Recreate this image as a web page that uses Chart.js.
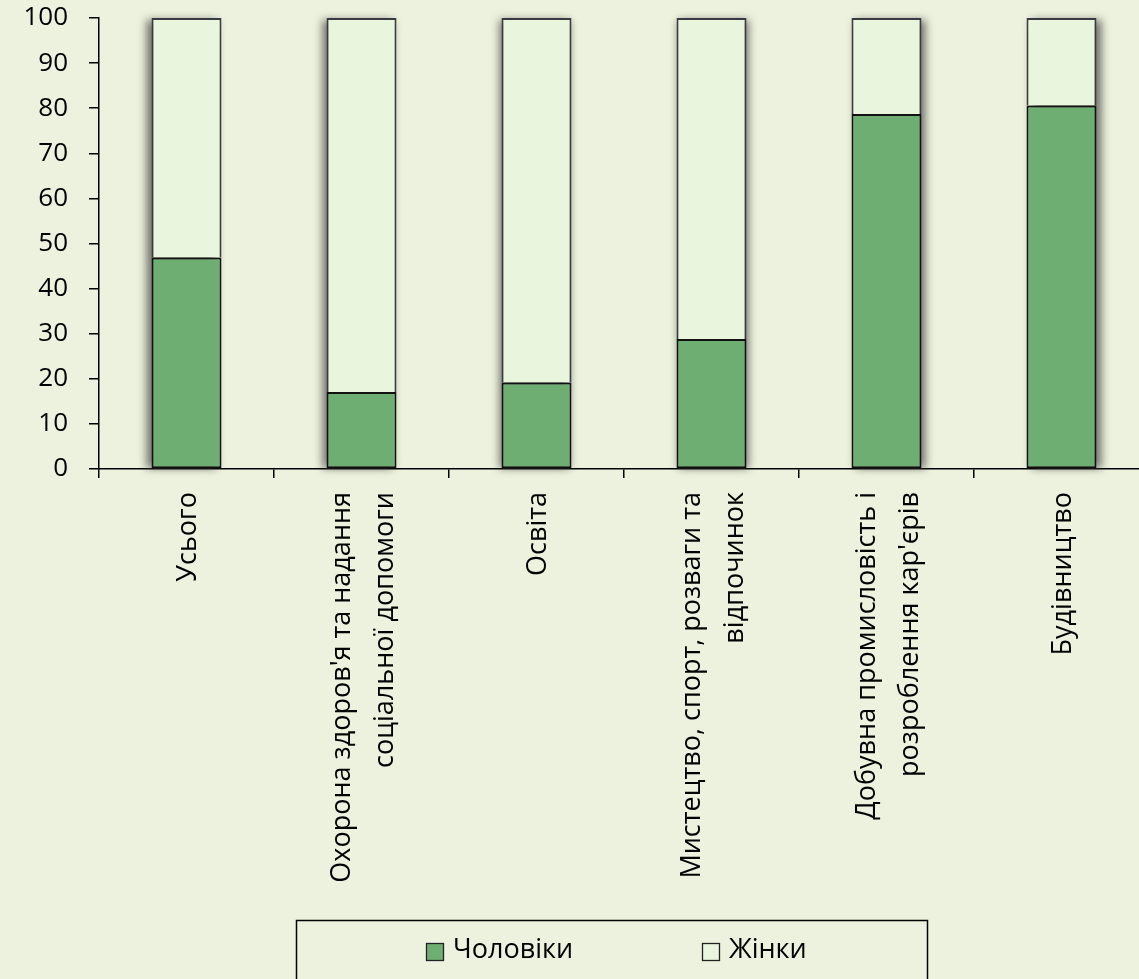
<!DOCTYPE html>
<html>
<head>
<meta charset="utf-8">
<script src="https://cdn.jsdelivr.net/npm/chart.js@4.4.1/dist/chart.umd.min.js"></script>
<style>
  html, body { margin: 0; padding: 0; overflow: hidden; background: #edf2de; }
  #wrap { width: 1160px; height: 979px; position: relative; }
</style>
</head>
<body>
<div id="wrap"><canvas id="c"></canvas></div>
<script>
const categories = [
  ['Усього'],
  ["Охорона здоров'я та надання", 'соціальної допомоги'],
  ['Освіта'],
  ['Мистецтво, спорт, розваги та', 'відпочинок'],
  ['Добувна промисловість і', "розроблення кар'єрів"],
  ['Будівництво']
];
const seriesNames = ['Чоловіки', 'Жінки'];
const menValues = [46.9, 17.1, 19.2, 28.8, 78.7, 80.6];
const womenValues = [53.1, 82.9, 80.8, 71.2, 21.3, 19.4];
const yTicks = [0, 10, 20, 30, 40, 50, 60, 70, 80, 90, 100];

const FONT = '"Open Sans", "Liberation Sans", sans-serif';
const shadowOffsets = [-5, -4, -2, 2, 4, 5];

const bgPlugin = {
  id: 'bg',
  beforeDraw(chart) {
    const ctx = chart.ctx;
    ctx.save();
    ctx.fillStyle = '#edf2de';
    ctx.fillRect(0, 0, chart.width, chart.height);
    ctx.restore();
  }
};

const shadowPlugin = {
  id: 'barShadow',
  beforeDatasetsDraw(chart) {
    const ctx = chart.ctx;
    const m0 = chart.getDatasetMeta(0).data;
    const m1 = chart.getDatasetMeta(1).data;
    ctx.save();
    ctx.filter = 'blur(4px)';
    ctx.fillStyle = 'rgba(60,60,60,0.7)';
    m0.forEach((el, i) => {
      const top = Math.min(m1[i].y, el.y);
      const bottom = el.base;
      ctx.fillRect(el.x - el.width / 2 + shadowOffsets[i], top + 2, el.width, bottom - top - 2);
    });
    ctx.restore();
  }
};

const xLabelPlugin = {
  id: 'xLabels',
  afterDraw(chart) {
    const ctx = chart.ctx;
    const xs = chart.scales.x;
    const top = chart.chartArea.bottom + 23;
    ctx.save();
    ctx.fillStyle = '#000';
    ctx.font = '27px ' + FONT;
    ctx.textAlign = 'right';
    ctx.textBaseline = 'middle';
    categories.forEach((lines, i) => {
      const x = xs.getPixelForValue(i);
      ctx.save();
      ctx.translate(x, top);
      ctx.rotate(-Math.PI / 2);
      const n = lines.length;
      lines.forEach((line, j) => {
        ctx.fillText(line, 0, (j - (n - 1) / 2) * 43 + 2);
      });
      ctx.restore();
    });
    ctx.restore();
  }
};

const legendPlugin = {
  id: 'boxLegend',
  afterDraw(chart) {
    const ctx = chart.ctx;
    ctx.save();
    ctx.strokeStyle = '#000';
    ctx.lineWidth = 1.5;
    ctx.strokeRect(296.5, 920.5, 631, 80);
    const itemX = [426, 702];
    ctx.font = '27px ' + FONT;
    ctx.textBaseline = 'middle';
    ctx.textAlign = 'left';
    chart.data.datasets.forEach((ds, i) => {
      const x = itemX[i];
      ctx.fillStyle = ds.backgroundColor;
      ctx.fillRect(x, 943, 17, 17);
      ctx.strokeStyle = '#222';
      ctx.lineWidth = 1.3;
      ctx.strokeRect(x + 0.5, 943.5, 17, 17);
      ctx.fillStyle = '#000';
      ctx.fillText(ds.label, x + 27, 950);
    });
    ctx.restore();
  }
};

new Chart(document.getElementById('c'), {
  type: 'bar',
  data: {
    labels: categories,
    datasets: [
      {
        label: seriesNames[0],
        data: menValues,
        backgroundColor: '#6fae73',
        borderColor: '#111111',
        borderWidth: 2,
        borderSkipped: false,
        barPercentage: 0.4,
        categoryPercentage: 1
      },
      {
        label: seriesNames[1],
        data: womenValues,
        backgroundColor: '#eaf5dd',
        borderColor: '#3a3a44',
        borderWidth: 2,
        borderSkipped: 'start',
        barPercentage: 0.4,
        categoryPercentage: 1
      }
    ]
  },
  options: {
    responsive: true,
    maintainAspectRatio: false,
    animation: false,
    devicePixelRatio: 1,
    layout: { padding: { top: 18, right: 11, bottom: 0, left: 0 } },
    plugins: {
      legend: { display: false },
      tooltip: { enabled: false }
    },
    scales: {
      x: {
        stacked: true,
        offset: true,
        ticks: { display: false },
        grid: {
          display: true,
          offset: true,
          drawOnChartArea: false,
          drawTicks: true,
          tickLength: 9,
          color: '#000',
          lineWidth: 1.5
        },
        border: { display: true, color: '#000', width: 1.5 },
        afterFit(scale) {
          scale.height = 510;
          scale.paddingLeft = 0; scale.paddingRight = 0;
        }
      },
      y: {
        stacked: true,
        min: 0,
        max: 100,
        afterBuildTicks(scale) { scale.ticks = yTicks.map(v => ({ value: v })); },
        ticks: {
          color: '#000',
          font: { family: FONT, size: 26 },
          padding: 21
        },
        grid: {
          drawOnChartArea: false,
          drawTicks: true,
          tickLength: 10,
          color: '#000',
          lineWidth: 1.5
        },
        border: { display: true, color: '#000', width: 1.5 },
        afterFit(scale) {
          scale.width = 99;
          scale.paddingTop = 0; scale.paddingBottom = 0;
        }
      }
    }
  },
  plugins: [bgPlugin, shadowPlugin, xLabelPlugin, legendPlugin]
});
</script>
</body>
</html>
